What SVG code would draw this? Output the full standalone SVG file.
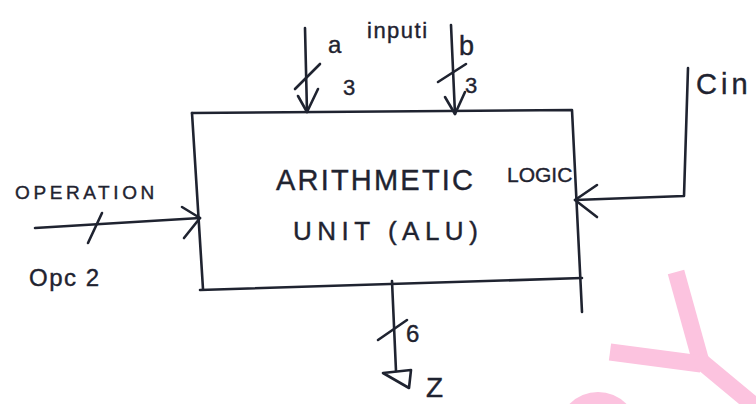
<svg xmlns="http://www.w3.org/2000/svg" width="756" height="404" viewBox="0 0 756 404">
<style>
.ln{fill:none;stroke:#1f2330;stroke-width:2.6;stroke-linecap:round;stroke-linejoin:round}
.t{font-family:"Liberation Sans",Arial,sans-serif;fill:#1f2330;stroke:#1f2330;stroke-width:0.4}
.wm{fill:none;stroke:#fcc3df;stroke-width:17;stroke-linecap:butt}
</style>
<rect width="756" height="404" fill="#ffffff"/>
<g id="watermark">
<line class="wm" x1="676" y1="272" x2="701" y2="362"/>
<line class="wm" x1="610" y1="352" x2="701" y2="364"/>
<line class="wm" x1="697" y1="358" x2="762" y2="412"/>
<circle cx="598" cy="432" r="40" fill="#fcc3df"/>
</g>
<g id="alu">
<path class="ln" d="M192,113 L572,110 L582,312"/>
<path class="ln" d="M192,113 L203,289"/>
<path class="ln" d="M200,290 L582,278"/>
<text class="t" x="276" y="190" font-size="29" letter-spacing="2.2">ARITHMETIC</text>
<text class="t" x="507" y="182" font-size="21" letter-spacing="0">LOGIC</text>
<text class="t" x="293" y="240" font-size="26" letter-spacing="5.5">UNIT (ALU)</text>
</g>
<g id="input-a">
<text class="t" x="328" y="53" font-size="24">a</text>
<text class="t" x="343" y="95" font-size="22">3</text>
</g>
<g id="input-label">
<text class="t" x="367" y="38" font-size="22" letter-spacing="1.5">inputi</text>
</g>
<g id="input-b">
<text class="t" x="459" y="55" font-size="27">b</text>
<text class="t" x="465" y="93" font-size="22">3</text>
</g>
<g id="cin">
<text class="t" x="696" y="94" font-size="29" letter-spacing="4">Cin</text>
</g>
<g id="operation">
<text class="t" x="15" y="199" font-size="19" letter-spacing="3.6">OPERATION</text>
<text class="t" x="29" y="286" font-size="24" letter-spacing="1.5">Opc 2</text>
</g>
<g id="output-z">
<text class="t" x="406" y="342" font-size="24">6</text>
<text class="t" x="426" y="397" font-size="28">Z</text>
</g>
<g id="connectors">
<path class="ln" d="M305,28 L307,112"/>
<path class="ln" d="M298,96 L307,112 L318,89"/>
<path class="ln" d="M295,89 L320,64"/>
<path class="ln" d="M451,25 L455,114"/>
<path class="ln" d="M445,97 L455,114 L465,92"/>
<path class="ln" d="M438,82 L466,64"/>
<path class="ln" d="M688,68 L684,196 L575,200"/>
<path class="ln" d="M597,185 L575,200 L597,217"/>
<path class="ln" d="M35,228 L200,218"/>
<path class="ln" d="M182,207 L200,218 L184,238"/>
<path class="ln" d="M88,243 L102,213"/>
<path class="ln" d="M392,281 L396,371"/>
<path class="ln" d="M378,340 L407,320"/>
<path class="ln" d="M383,373 L411,370 L409,388 Z"/>
</g>
</svg>
